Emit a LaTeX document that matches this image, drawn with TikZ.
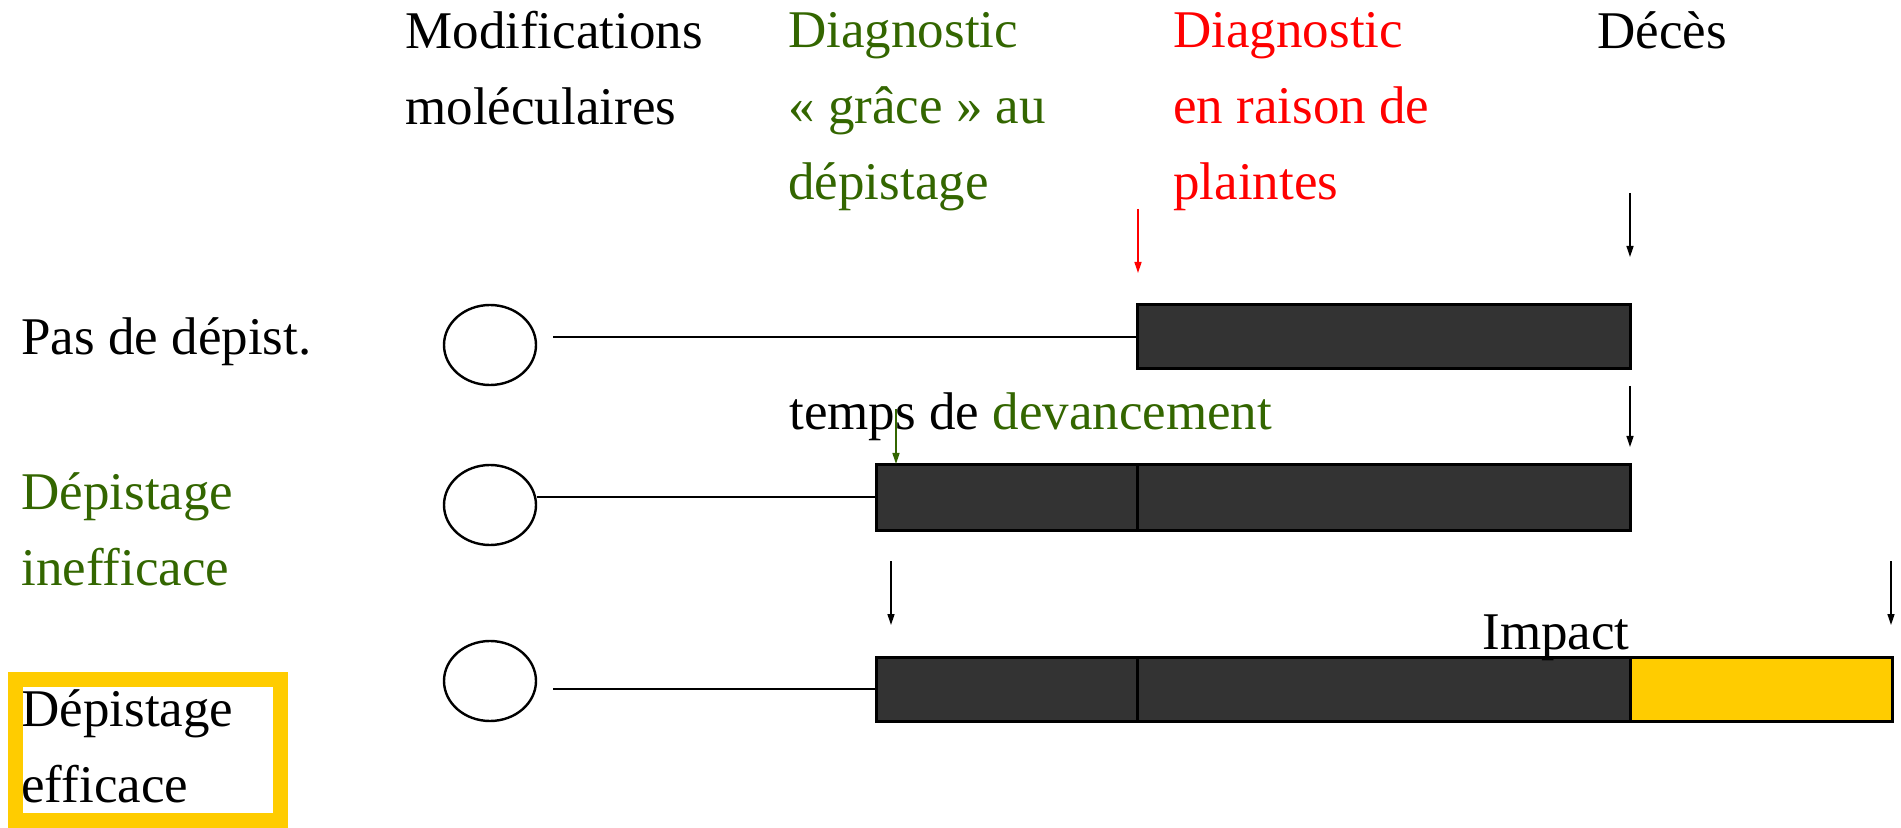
\documentclass[tikz,border=0pt]{standalone}
\usepackage{fontspec}
\setmainfont{Liberation Serif}
\usetikzlibrary{arrows.meta,shapes.geometric}
\definecolor{screengreen}{RGB}{51,102,0}
\definecolor{bargray}{RGB}{51,51,51}
\definecolor{impactyellow}{RGB}{255,204,0}
\tikzset{
  txt/.style={inner sep=0pt, anchor=base west, align=left,
    font=\fontsize{26.5pt}{38pt}\selectfont},
  cell/.style={draw, ellipse, inner sep=0pt, minimum width=46pt,
    minimum height=40pt, line width=1.2pt},
  bar/.style={fill=bargray, draw=black, line width=1.5pt},
  pointer/.style={-{Triangle[length=5.5pt,width=3.5pt]}, line width=0.7pt},
  stem/.style={line width=1.25pt}
}
\begin{document}
\begin{tikzpicture}[x=0.5pt,y=-0.5pt]
    \useasboundingbox (0,0) rectangle (1901,828);
    % column headings (placed at the baseline of their last line)
    \node[txt] (mods) at (405,125) {Modifications\\moléculaires};
    \node[txt, text=screengreen] (early) at (788,200) {Diagnostic\\« grâce » au\\dépistage};
    \node[txt, text=red] (late) at (1173,200) {Diagnostic\\en raison de\\plaintes};
    \node[txt] (death) at (1597,49) {Décès};
    % row headings
    \node[txt] (none) at (21,355) {Pas de dépist.};
    \node[txt, text=screengreen] (useless) at (21,585) {Dépistage\\inefficace};
    \node[txt] (useful) at (21,802) {Dépistage\\efficace};
    \draw[impactyellow, line width=7.5pt] (15,679) rectangle (280,820);
    % cells
    \node[cell] (cell1) at (490,345) {};
    \node[cell] (cell2) at (490,505) {};
    \node[cell] (cell3) at (490,681) {};
    % bars
    \filldraw[bar] (1137,305) rectangle (1630,369);
    \filldraw[bar] (876,465) rectangle (1630,530);
    \draw[line width=1.5pt] (1137,465) -- (1137,530);
    \filldraw[bar] (876,657) rectangle (1630,721);
    \draw[line width=1.5pt] (1137,657) -- (1137,721);
    \filldraw[bar, fill=impactyellow] (1630,657) rectangle (1892,721);
    % stems
    \coordinate (bar1) at (1137,337);
    \coordinate (bar2) at (876,497);
    \coordinate (bar3) at (876,689);
    \draw[stem] (553,337) -- (bar1);
    \draw[stem] (cell2.east |- bar2) -- (bar2);
    \draw[stem] (553,689) -- (bar3);
    % labels on the bars
    \node[txt] (lead) at (789,430) {temps de \textcolor{screengreen}{devancement}};
    \node[txt, anchor=base east] (gain) at (1630,649) {Impact};
    % arrows
    \draw[pointer, red] (1138,209) -- (1138,273);
    \draw[pointer] (1630,193) -- (1630,257);
    \draw[pointer] (1630,386) -- (1630,447);
    \draw[pointer, screengreen] (896,409) -- (896,464);
    \draw[pointer] (891,561) -- (891,625);
    \draw[pointer] (1891,561) -- (1891,625);
\end{tikzpicture}
\end{document}
